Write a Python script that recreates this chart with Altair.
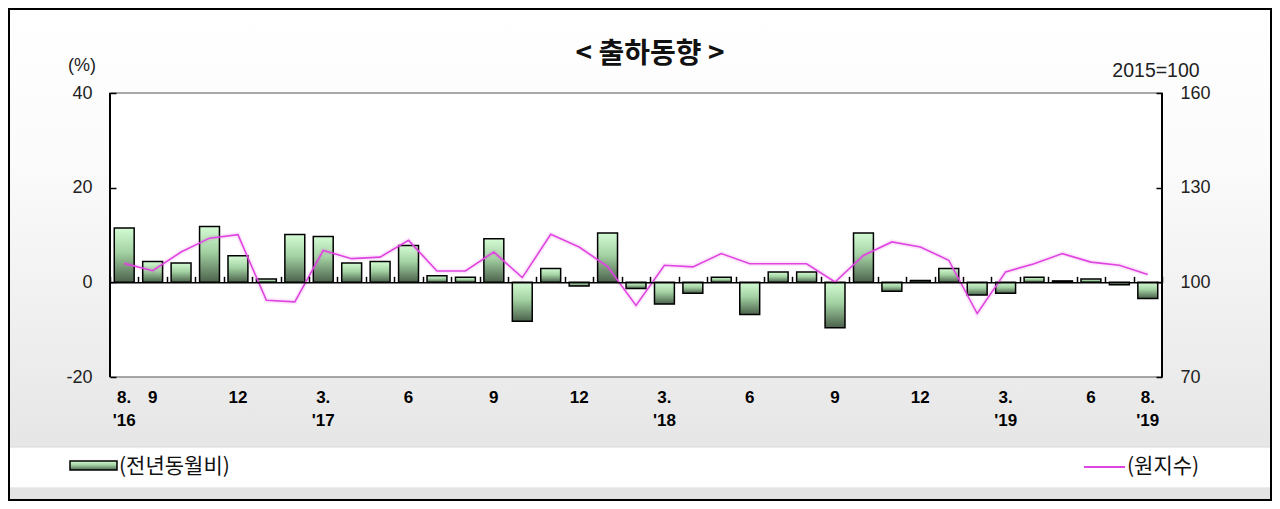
import json
import altair as alt
import pandas as pd

# ---------------- data ----------------
periods = [
    "2016.08", "2016.09", "2016.10", "2016.11", "2016.12",
    "2017.01", "2017.02", "2017.03", "2017.04", "2017.05", "2017.06",
    "2017.07", "2017.08", "2017.09", "2017.10", "2017.11", "2017.12",
    "2018.01", "2018.02", "2018.03", "2018.04", "2018.05", "2018.06",
    "2018.07", "2018.08", "2018.09", "2018.10", "2018.11", "2018.12",
    "2019.01", "2019.02", "2019.03", "2019.04", "2019.05", "2019.06",
    "2019.07", "2019.08",
]
# 전년동월비 (%)
yoy = [
    11.5, 4.4, 4.1, 11.8, 5.6,
    0.7, 10.1, 9.7, 4.1, 4.4, 7.8,
    1.4, 1.1, 9.2, -8.2, 2.9, -0.8,
    10.4, -1.3, -4.6, -2.3, 1.1, -6.8,
    2.2, 2.2, -9.6, 10.4, -1.9, 0.4,
    2.9, -2.7, -2.3, 1.1, 0.3, 0.7,
    -0.5, -3.4,
]
# 원지수 (2015=100)
index_vals = [
    106.0, 103.7, 109.6, 114.0, 115.1,
    94.3, 93.8, 110.1, 107.5, 108.0, 113.3,
    103.6, 103.6, 109.6, 101.5, 115.2, 111.2,
    105.0, 92.7, 105.4, 104.9, 109.1, 105.9,
    105.9, 105.9, 100.1, 108.5, 112.8, 111.2,
    107.0, 90.1, 103.3, 105.9, 109.1, 106.4,
    105.4, 102.5,
]
tick_labels = {
    "2016.08": ["8.", "'16"], "2016.09": ["9"], "2016.12": ["12"],
    "2017.03": ["3.", "'17"], "2017.06": ["6"], "2017.09": ["9"],
    "2017.12": ["12"], "2018.03": ["3.", "'18"], "2018.06": ["6"],
    "2018.09": ["9"], "2018.12": ["12"], "2019.03": ["3.", "'19"],
    "2019.06": ["6"], "2019.08": ["8.", "'19"],
}
left_ticks = [-20, 0, 20, 40]
right_ticks = [70, 100, 130, 160]

title_text = "< 출하동향 >"
bar_name = "(전년동월비)"
line_name = "(원지수)"

# ---------------- layout ----------------
W, H = 1052, 284
PL, PT, PR, PB = 102, 85, 110, 124
ZERO_Y = H * 40 / 60.0
FONT = "Liberation Sans"
KFONT = "Noto Sans CJK KR"
LINE_COLOR = "#e044e0"

df = pd.DataFrame({"period": periods, "yoy": yoy, "idx": index_vals})
one = alt.Data(values=[{"k": 1}])

label_expr = " : ".join(
    f"datum.value == '{k}' ? {json.dumps(v)}" for k, v in tick_labels.items()
) + " : ''"
num_expr = "datum.value < 0 ? '-' + abs(datum.value) : '' + datum.value"

bar_grad = alt.Gradient(
    gradient="linear",
    stops=[
        alt.GradientStop(color="#d4fbd4", offset=0),
        alt.GradientStop(color="#a3d2a3", offset=0.45),
        alt.GradientStop(color="#4b614b", offset=1),
    ],
    x1=0, x2=0, y1=0, y2=1,
)
bg_grad = alt.Gradient(
    gradient="linear",
    stops=[
        alt.GradientStop(color="#ffffff", offset=0),
        alt.GradientStop(color="#fbfbfb", offset=0.35),
        alt.GradientStop(color="#e6e6e6", offset=1),
    ],
    x1=0, x2=0, y1=0, y2=1,
)


def rect(x, x2, y, y2, **kw):
    return alt.Chart(one).mark_rect(**kw).encode(
        x=alt.value(x), x2=alt.value(x2), y=alt.value(y), y2=alt.value(y2)
    )


def text(x, y, t, **kw):
    return alt.Chart(one).mark_text(**kw).encode(
        x=alt.value(x), y=alt.value(y), text=alt.value(t)
    )


background = rect(-PL, W + PR, -PT, 354, fill=bg_grad)
band = rect(-PL, W + PR, 354, 395, fill="white", stroke="#d8d8d8", strokeWidth=1)
bottom_strip = rect(-PL, W + PR, 395, H + PB, fill="#e4e4e4")
plot_bg = rect(0, W, 0, H, fill="white")

x_shared = alt.X(
    "period:N", sort=periods,
    scale=alt.Scale(paddingInner=0, paddingOuter=0),
    axis=alt.Axis(
        orient="bottom", title=None, labelExpr=label_expr, labelAngle=0,
        labelFont=FONT, labelFontWeight="bold", labelFontSize=17,
        labelColor="black", labelPadding=12, labelBaseline="top",
        labelLineHeight=23, ticks=False, domain=False, labelOverlap=False,
        zindex=2,
    ),
)

bars = alt.Chart(df).mark_bar(
    width=alt.RelativeBandSize(0.7), fill=bar_grad, stroke="black", strokeWidth=1.5
).encode(
    x=x_shared,
    y=alt.Y(
        "yoy:Q",
        scale=alt.Scale(domain=[-20, 40], nice=False, zero=False),
        axis=alt.Axis(
            orient="left", values=left_ticks, title=None, grid=False,
            domain=False, offset=-6, tickSize=6, tickColor="black",
            tickWidth=1.5, labelPadding=18, labelFont=FONT, labelFontSize=18,
            labelColor="#222", labelExpr=num_expr, zindex=2,
        ),
    ),
)

glow = alt.Chart(df).mark_line(
    color=LINE_COLOR, strokeWidth=5, opacity=0.12
).encode(
    x=alt.X("period:N", sort=periods, axis=None),
    y=alt.Y("idx:Q", scale=alt.Scale(domain=[70, 160], nice=False, zero=False), axis=None),
)

line = alt.Chart(df).mark_line(color=LINE_COLOR, strokeWidth=1.6).encode(
    x=alt.X(
        "period:N", sort=periods,
        axis=alt.Axis(
            orient="top", title=None, labels=False, offset=-ZERO_Y,
            ticks=True, tickSize=6, tickBand="extent", tickColor="black",
            tickWidth=1.5, domain=True, domainColor="black", domainWidth=1.5,
            zindex=1,
        ),
    ),
    y=alt.Y(
        "idx:Q",
        scale=alt.Scale(domain=[70, 160], nice=False, zero=False),
        axis=alt.Axis(
            orient="right", values=right_ticks, title=None, grid=False,
            domain=False, offset=-6, tickSize=6, tickColor="black",
            tickWidth=1.5, labelPadding=18, labelFont=FONT, labelFontSize=18,
            labelColor="#222", zindex=2,
        ),
    ),
)

plot_frame = rect(0, W, 0, H, fillOpacity=0, stroke="#8a8a8a", strokeWidth=1.5)
left_rule = alt.Chart(one).mark_rule(color="black", strokeWidth=2).encode(
    x=alt.value(0), y=alt.value(0), y2=alt.value(H)
)
right_rule = alt.Chart(one).mark_rule(color="black", strokeWidth=2).encode(
    x=alt.value(W), y=alt.value(0), y2=alt.value(H)
)

leg_bar = rect(-40, 7, 368, 377, fill=bar_grad, stroke="black", strokeWidth=1.5)
leg_bar_txt = text(9, 374, bar_name, align="left", baseline="middle",
                   font=KFONT, fontSize=21, color="#111")
leg_line = alt.Chart(one).mark_rule(color=LINE_COLOR, strokeWidth=1.8).encode(
    x=alt.value(974), x2=alt.value(1015), y=alt.value(374)
)
leg_line_txt = text(1017, 374, line_name, align="left", baseline="middle",
                    font=KFONT, fontSize=21, color="#111")

title = text(540, -38, title_text, align="center", baseline="middle",
             font=KFONT, fontSize=28, fontWeight="bold", color="#111")
pct = text(-28, -27, "(%)", align="center", baseline="middle",
           font=FONT, fontSize=18, color="#222")
base = text(1046, -22, "2015=100", align="center", baseline="middle",
            font=FONT, fontSize=19.5, color="#222")

outer = rect(-PL + 1, W + PR - 1, -PT + 1, H + PB - 1,
             fillOpacity=0, stroke="black", strokeWidth=2)

chart = alt.layer(
    background, band, bottom_strip, plot_bg,
    bars, glow, line,
    plot_frame, left_rule, right_rule,
    leg_bar, leg_bar_txt, leg_line, leg_line_txt,
    title, pct, base, outer,
    data=df,
).resolve_scale(y="independent").properties(
    width=W, height=H,
    padding={"left": PL, "top": PT, "right": PR, "bottom": PB},
    autosize=alt.AutoSizeParams(type="none"),
).configure_view(stroke=None).configure(background="white")

chart.save("out.html", embed_options={"renderer": "svg", "actions": False})
